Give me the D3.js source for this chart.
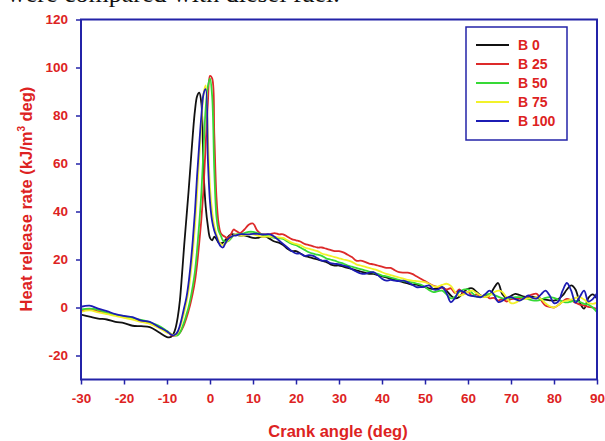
<!DOCTYPE html>
<html>
<head>
<meta charset="utf-8">
<script src="https://cdn.jsdelivr.net/npm/d3@7"></script>
<style>
  body { margin: 0; background: #fff; }
  svg { display: block; }
</style>
</head>
<body>
<svg id="chart" width="605" height="441"></svg>
<script>
// Sampling grid of crank angle (deg): coarse before ignition, fine through the premixed peak, 1 deg afterwards
const crankAngle = [].concat(d3.range(-30, -9, 2), d3.range(-9, 6.01, 0.5), d3.range(7, 91, 1));

// Heat release rate (kJ/m3 deg) for each blend, on the crankAngle grid
const hrrB0 = [
  -3.0, -3.8, -4.6, -5.0, -6.0, -6.5, -7.6, -7.8, -8.2, -10.2, -12.3,
  -12.2, -11, -8.5, -4, 3, 14, 26, 37, 48, 60, 72, 82, 88, 89.5, 85, 57, 42, 34, 29, 28, 29.5, 28.5, 27, 26.8, 27, 28, 29, 30, 30.5, 30.5, 30.3,
  30, 30, 29.5, 29, 29, 29.5, 29.5, 28.5, 27.5, 27, 26, 24.5, 23.5, 23.5, 22.5, 21.5, 21, 20.5, 20, 19.5, 19, 18, 17.5, 17.5, 17, 16.5, 16, 15.5, 15, 14.5, 14, 14, 13.5, 13, 12.5, 12, 11.5, 11, 10.5, 10, 9.5, 9.5,
  9, 8.5, 8, 7.8, 8, 8.5, 7, 5, 3.8, 4.5, 6.5, 7.8, 8, 6.5, 5, 4.3, 5, 8, 10.2, 5.5, 4, 4.8, 5.7, 5.2, 4.5, 4.3, 4.5, 4, 3.6, 3.3, 3, 2.9, 3.5, 5, 7.5, 9.2, 7.5, 2, -0.5, 4, 5.5, 3.6
];
const hrrB25 = [
  -1.5, -0.8, -1.6, -2.5, -3.0, -4.0, -4.5, -5.8, -6.5, -8.0, -10.0,
  -11.5, -11.8, -11.6, -11.2, -10.5, -9, -7, -4.5, -1.5, 2, 6, 11, 18, 27, 37, 50, 68, 85, 96.5, 95.5, 72, 46, 35, 31, 30, 29.5, 29, 29.5, 31, 32.5, 32,
  31, 32.5, 34.5, 35, 32, 30.5, 30.5, 30.5, 31, 30.5, 30.5, 29.5, 28.5, 28, 27.5, 26.5, 26, 25.5, 25, 25, 24.5, 24, 23.5, 23.5, 23, 22, 21, 19.5, 19.5, 19, 18.3, 18, 17.5, 17, 16.5, 16.5, 15.5, 14.7, 14.5, 14.5, 14, 13,
  12, 11, 9.9, 9, 8.5, 8.2, 7.5, 8, 6, 7.5, 5.5, 6.5, 4.8, 5.5, 4.5, 5.2, 3.8, 4, 2.9, 3.5, 2.5, 3.5, 3.6, 3.6, 4, 4.8, 5.5, 5.7, 3, 0.8, 0.3, 0, 1, 2.5, 3.6, 3, 2, 1.2, 0.8, 0.3, 0, -0.6
];
const hrrB50 = [
  -0.8, -0.5, -1.0, -2.2, -3.2, -3.6, -4.5, -5.2, -6.2, -7.5, -9.8,
  -11, -11.5, -11.7, -11.5, -10.5, -8.5, -6, -3, 0, 4, 9, 15, 24, 35, 48, 66, 83, 92, 95.5, 88, 57, 38, 32, 30, 28, 27.5, 27.5, 28, 29, 30, 30.5,
  30.5, 31, 31.5, 31.5, 31, 30.5, 30, 29.5, 29, 28.8, 28.6, 27.5, 26.5, 26, 25, 24, 23, 22.4, 22, 21.5, 20.5, 20, 19.5, 18.8, 18.3, 17.5, 17, 16.5, 16, 15.5, 15, 14.5, 14, 13.3, 13, 12.5, 12, 11.5, 11, 10.8, 10.5, 10,
  9.5, 8.5, 7.2, 6.4, 6.8, 7, 5.5, 3.8, 4.5, 6.5, 7.5, 7.6, 6, 4.5, 4.5, 5.2, 5.7, 5.3, 4.5, 3.8, 3.6, 4, 4.3, 4.3, 4, 3.5, 3, 2.9, 3.3, 4, 4.3, 4, 3.3, 2.5, 2.1, 2.5, 2.8, 2.3, 1.5, 1.2, 0, -2
];
const hrrB75 = [
  -1.8, -1.2, -2.0, -2.8, -3.5, -4.3, -5.0, -6.0, -6.8, -8.4, -10.5,
  -11, -11.5, -11.5, -10.5, -8.5, -5.5, -2, 2, 7, 14, 23, 34, 48, 63, 77, 89, 92.5, 72, 50, 40, 34, 30.5, 28, 26.5, 26, 26.5, 27.5, 28.5, 29.5, 30, 30.5,
  30, 30, 30.5, 30.5, 30, 29.5, 29.5, 29.5, 29.5, 29.2, 29, 28, 27, 26.5, 26, 25, 24.5, 24, 23.5, 22.5, 22, 21.5, 21, 20.5, 20, 19.6, 19, 18, 17.5, 17, 16.5, 16, 15.5, 14.7, 14, 13.5, 13, 12.5, 12, 11.5, 11.2, 11,
  10.8, 10.6, 9.8, 8.8, 8.7, 9.4, 9.9, 9, 6.5, 5, 5.5, 6.5, 7, 6, 5, 4.3, 5, 6.3, 7, 6.5, 4, 1.8, 2, 3, 3.6, 3.8, 4, 4.3, 3.5, 1.8, 0.5, 0, 1, 2.3, 2.9, 3.3, 4, 4.3, 3.3, 2, 1.5, 2
];
const hrrB100 = [
  0.3, 0.8, -0.5, -1.5, -2.8, -3.5, -4.0, -5.5, -6.0, -8.0, -10.0,
  -11.3, -11.6, -11.2, -10, -7.5, -4, 0, 4, 10, 18, 28, 40, 55, 68, 80, 89, 91, 62, 44, 36, 32, 29.5, 27, 25.5, 25, 26.5, 28, 29, 29.5, 30, 30,
  30.5, 30.5, 30.5, 30.7, 30.7, 30.5, 30.5, 30.5, 29.5, 28, 26.5, 25, 23.5, 22.5, 22.5, 21.5, 21.8, 21.5, 20.5, 19.5, 19.5, 18.5, 18.2, 18, 17.5, 17, 16, 15, 14.2, 14, 14.5, 14.7, 13.5, 12, 11.2, 11.5, 11.2, 11, 11.2, 10.5, 9.5, 8.5,
  8.5, 8.8, 9.2, 7.5, 7.5, 8.5, 6, 2.2, 4, 7, 6.5, 5.2, 4.8, 4.5, 4.3, 5.5, 7, 5.5, 2.3, 2.8, 4, 4.3, 3.5, 2.9, 3.8, 5, 4, 3.8, 5.5, 7, 5, 1.8, 2.5, 7, 10.2, 7, 2, 4.5, 7, 2.5, 3.5, 6
];

const seriesNames = ["B 0", "B 25", "B 50", "B 75", "B 100"];
const seriesValues = [hrrB0, hrrB25, hrrB50, hrrB75, hrrB100];
const seriesColors = ["#111111", "#dd2a2a", "#36d936", "#f2f22a", "#1c1cb4"];

const xTicks = [-30, -20, -10, 0, 10, 20, 30, 40, 50, 60, 70, 80, 90];
const yTicks = [-20, 0, 20, 40, 60, 80, 100, 120];

const axisBlue = "#2323a8";
const labelRed = "#dd2222";
const sans = "'Liberation Sans', Arial, Helvetica, sans-serif";

const svg = d3.select("#chart");

// Caption line of the surrounding text, mostly above the top edge
svg.append("text")
  .attr("x", 7).attr("y", 2)
  .attr("font-family", "'Liberation Serif', 'Times New Roman', serif")
  .attr("font-size", 26)
  .attr("fill", "#111")
  .text("were compared with diesel fuel.");

const x = d3.scaleLinear().domain([-30, 90]).range([81, 597]);
const y = d3.scaleLinear().domain([-30, 120]).range([379.5, 19.5]);

svg.append("defs").append("clipPath").attr("id", "plot-clip")
  .append("rect")
  .attr("x", x(-30)).attr("y", y(120))
  .attr("width", x(90) - x(-30)).attr("height", y(-30) - y(120));

// Axes (plain hyphen for negative labels)
const tickLabel = d => String(d);
const xAxis = svg.append("g")
  .attr("transform", `translate(0,${y(-30)})`)
  .call(d3.axisBottom(x).tickValues(xTicks).tickSize(5).tickPadding(9).tickFormat(tickLabel));
const yAxis = svg.append("g")
  .attr("transform", `translate(${x(-30)},0)`)
  .call(d3.axisLeft(y).tickValues(yTicks).tickSize(5).tickPadding(8).tickFormat(tickLabel));

[xAxis, yAxis].forEach(g => {
  g.select(".domain").remove();
  g.selectAll(".tick line").attr("stroke", axisBlue).attr("stroke-width", 1.5);
  g.selectAll(".tick text")
    .attr("fill", labelRed)
    .attr("font-family", sans)
    .attr("font-weight", "bold")
    .attr("font-size", 13.5);
});

// Curves
const line = d3.line()
  .x((d, i) => x(crankAngle[i]))
  .y(d => y(d))
  .curve(d3.curveCatmullRom.alpha(0.5));

svg.append("g").attr("clip-path", "url(#plot-clip)")
  .selectAll("path")
  .data(seriesValues)
  .join("path")
  .attr("fill", "none")
  .attr("stroke", (d, i) => seriesColors[i])
  .attr("stroke-width", 1.8)
  .attr("stroke-linejoin", "round")
  .attr("d", line);

// Plot frame
svg.append("rect")
  .attr("x", x(-30)).attr("y", y(120))
  .attr("width", x(90) - x(-30)).attr("height", y(-30) - y(120))
  .attr("fill", "none")
  .attr("stroke", axisBlue)
  .attr("stroke-width", 2);

// Axis titles
svg.append("text")
  .attr("x", 338).attr("y", 437)
  .attr("text-anchor", "middle")
  .attr("font-family", sans).attr("font-weight", "bold").attr("font-size", 16.5)
  .attr("fill", labelRed)
  .text("Crank angle (deg)");

const yTitle = svg.append("text")
  .attr("transform", "translate(32,199) rotate(-90)")
  .attr("text-anchor", "middle")
  .attr("font-family", sans).attr("font-weight", "bold").attr("font-size", 16.5)
  .attr("fill", labelRed);
yTitle.append("tspan").text("Heat release rate (kJ/m");
yTitle.append("tspan").attr("font-size", 10).attr("dy", -7).text("3");
yTitle.append("tspan").attr("dy", 7).text(" deg)");

// Legend
const legend = svg.append("g");
legend.append("rect")
  .attr("x", 466).attr("y", 27).attr("width", 101).attr("height", 113)
  .attr("fill", "#fff").attr("stroke", axisBlue).attr("stroke-width", 1.5);
const rows = legend.selectAll("g.row").data(seriesNames).join("g")
  .attr("class", "row")
  .attr("transform", (d, i) => `translate(0,${45 + i * 19})`);
rows.append("line")
  .attr("x1", 476).attr("x2", 509)
  .attr("stroke", (d, i) => seriesColors[i]).attr("stroke-width", 1.8);
rows.append("text")
  .attr("x", 518).attr("dy", "0.36em")
  .attr("font-family", sans).attr("font-weight", "bold").attr("font-size", 14)
  .attr("fill", labelRed)
  .text(d => d);
</script>
</body>
</html>
